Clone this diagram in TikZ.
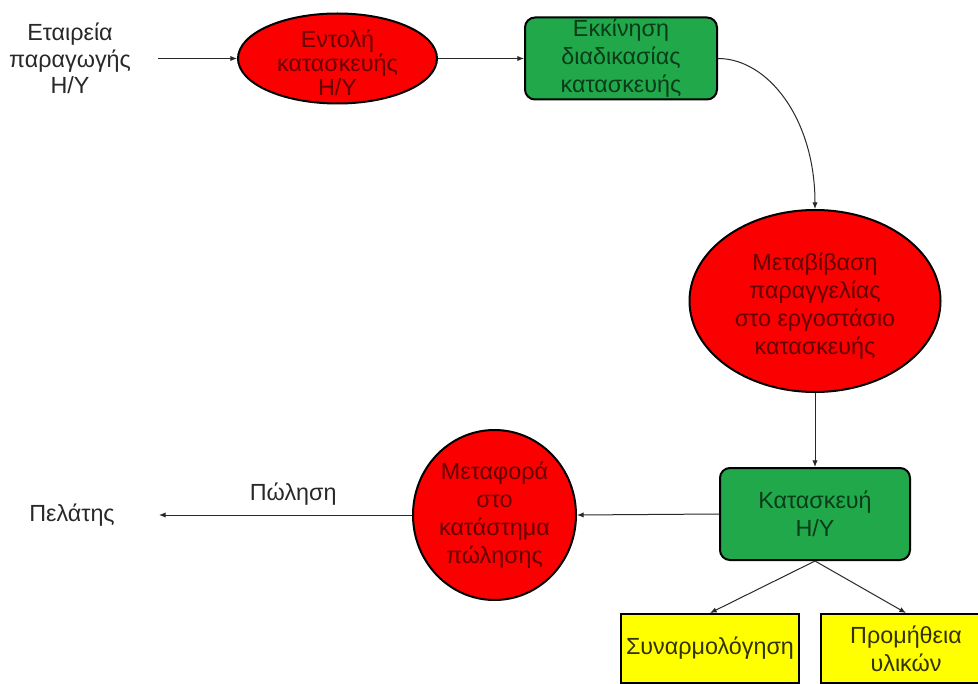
\documentclass[tikz,border=0pt]{standalone}
\usepackage{fontspec}
\setmainfont{Liberation Sans}
\usetikzlibrary{shapes.geometric,arrows.meta}
\definecolor{shred}{RGB}{250,0,0}
\definecolor{shgreen}{RGB}{32,168,74}
\definecolor{shyellow}{RGB}{255,255,0}
\definecolor{txred}{RGB}{100,0,0}
\definecolor{txgreen}{RGB}{10,60,25}
\definecolor{txyellow}{RGB}{50,50,0}
\definecolor{txplain}{RGB}{40,40,40}
\definecolor{lineclr}{RGB}{40,40,40}
\newcommand\lowtext[2]{\raisebox{-#1}[0pt][0pt]{\begin{tabular}{@{}c@{}}#2\end{tabular}}}
\begin{document}
\begin{tikzpicture}[x=0.75pt,y=-0.75pt,
  base/.style={align=center, inner sep=0pt, font=\fontsize{17.5}{21}\selectfont, line width=1.5pt, draw=black},
  redell/.style={base, ellipse, fill=shred, text=txred},
  greenbox/.style={base, rectangle, rounded corners=7.5pt, fill=shgreen, text=txgreen},
  yellowbox/.style={base, rectangle, fill=shyellow, text=txyellow},
  plain/.style={align=center, inner sep=0pt, font=\fontsize{17.5}{20}\selectfont, text=txplain},
  conn/.style={draw=lineclr, line width=0.75pt, -{Latex[length=5pt,width=4pt]}}
]
\clip (0,0) rectangle (978,684);
\fill[white] (0,0) rectangle (978,684);

\node[plain] (firm) at (70,58.5) {Εταιρεία\\παραγωγής\\Η/Υ};
\node[redell, minimum width=149.25pt, minimum height=67.5pt,
      font=\fontsize{17.5}{17.6}\selectfont] (order) at (337.5,58.5)
      {\lowtext{10pt}{Εντολή\\κατασκευής\\Η/Υ}};
\node[greenbox, minimum width=144pt, minimum height=61.5pt] (start) at (621,58.5)
      {Εκκίνηση\\διαδικασίας\\κατασκευής};
\node[redell, minimum width=188.25pt, minimum height=136.5pt] (transfer) at (815,301)
      {\lowtext{9pt}{Μεταβίβαση\\παραγγελίας\\στο εργοστάσιο\\κατασκευής}};
\node[greenbox, minimum width=142.5pt, minimum height=69pt] (build) at (815,514) {Κατασκευή\\Η/Υ};
\node[redell, minimum width=122.25pt, minimum height=127.5pt, inner sep=-6pt] (ship) at (494.5,515)
      {Μεταφορά\\στο\\κατάστημα\\πώλησης};
\node[plain] (client) at (72,515) {Πελάτης};
\node[yellowbox, minimum width=133.5pt, minimum height=51.75pt] (assembly) at (710,648.5) {Συναρμολόγηση};
\node[yellowbox, minimum width=127.5pt, minimum height=51.75pt] (supply) at (906,648.5) {Προμήθεια\\υλικών};

\draw[conn, shorten <=20pt] (firm.east) -- (order.west);
\draw[conn] (order.east) -- (start.west);
\draw[conn] (start.east) .. controls +(50,0) and +(0,-90) .. (transfer.north);
\draw[conn] (transfer.south) -- (build.north);
\draw[conn] (build.west) -- (ship.east);
\draw[conn, shorten >=33pt] (ship.west) -- node[plain, pos=0.4, above=7pt] {Πώληση} (client.east);
\draw[conn] (build.south) -- (assembly.north);
\draw[conn] (build.south) -- (supply.north);
\end{tikzpicture}
\end{document}
